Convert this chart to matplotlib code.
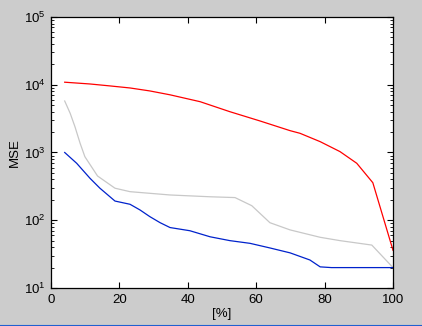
import matplotlib
matplotlib.use('Agg')
import matplotlib.pyplot as plt
from matplotlib.lines import Line2D
from matplotlib.ticker import LogLocator, NullFormatter

plt.rcParams['font.family'] = ['Liberation Sans', 'DejaVu Sans']
plt.rcParams['mathtext.default'] = 'regular'

# red curve
red_x = [4, 11.4, 17.3, 23.1, 28.9, 34.8, 43.6, 52.3, 61.1, 69.9, 72.8, 78.7, 84.5, 89.4, 94.1, 100]
red_y = [10900, 10260, 9600, 8960, 8100, 7100, 5620, 4000, 2920, 2100, 1920, 1445, 1030, 693, 358, 36]

# gray curve
gray_x = [4, 5.6, 7, 8.5, 9.9, 13.6, 18.7, 23.1, 34.8, 46.5, 53.8, 58.7, 64, 69.9, 78.7, 84.5, 93.8, 100]
gray_y = [5750, 3790, 2400, 1370, 867, 450, 297, 264, 236, 222, 216, 164, 92, 72, 56, 50, 43, 20]

# blue curve
blue_x = [4, 7.5, 11.4, 14.3, 18.7, 23.1, 26, 28.9, 31.9, 34.8, 40.6, 46.5, 52.3, 58.2, 64, 69.9, 75.7, 78.7, 82, 100]
blue_y = [1000, 693, 416, 297, 192, 172, 142, 113, 92, 78, 70, 57, 50, 45.6, 39, 33, 25.9, 20.5, 20, 20]

fig = plt.figure(figsize=(4.22, 3.26), dpi=100, facecolor='#cccccc')
ax = fig.add_axes([0.1209, 0.1166, 0.8104, 0.8313])

ax.plot(red_x, red_y, color='#ff0000', lw=0.9)
ax.plot(gray_x, gray_y, color='#c8c8c8', lw=0.9)
ax.plot(blue_x, blue_y, color='#0022cc', lw=0.9)

ax.set_yscale('log')
ax.set_xlim(0, 100)
ax.set_ylim(10, 1e5)
ax.set_xticks([0, 20, 40, 60, 80, 100])
ax.yaxis.set_major_locator(LogLocator(base=10, numticks=10))
ax.yaxis.set_minor_locator(LogLocator(base=10, subs=range(2, 10), numticks=10))
ax.yaxis.set_minor_formatter(NullFormatter())
ax.tick_params(which='both', direction='in', top=True, right=True, labelsize=9.5, colors='black')
ax.tick_params(which='major', length=4, width=0.8, pad=4)
ax.tick_params(which='minor', length=2, width=0.6)
for s in ax.spines.values():
    s.set_linewidth(0.9)

ax.set_xlabel('[%]', fontsize=9.5, labelpad=2)
ax.set_ylabel('MSE', fontsize=9.5, labelpad=2)

fig.add_artist(Line2D([0, 1], [0.002, 0.002], color='#2060d0', lw=0.8, transform=fig.transFigure))

fig.savefig('out.png', dpi=100, facecolor=fig.get_facecolor())
